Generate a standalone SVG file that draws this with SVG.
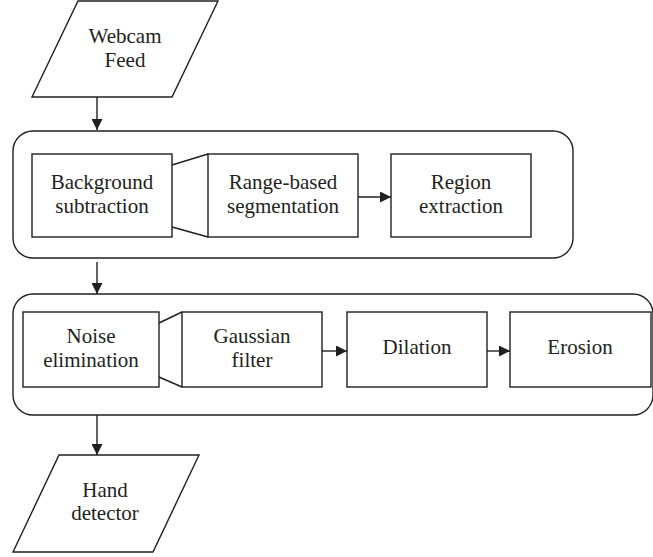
<svg xmlns="http://www.w3.org/2000/svg" width="653" height="557" viewBox="0 0 653 557">
<style>
.s{fill:#fff;stroke:#231f20;stroke-width:1.4}
.l{fill:none;stroke:#231f20;stroke-width:1.4}
</style>
<defs>
<marker id="ah" viewBox="0 0 10 10" refX="10" refY="5" markerWidth="11" markerHeight="11" markerUnits="userSpaceOnUse" orient="auto">
<path d="M0,0 L10,5 L0,10 Z" fill="#231f20"/>
</marker>
</defs>
<g font-family="Liberation Serif, DejaVu Serif, serif" font-size="21" fill="#231f20" text-anchor="middle">
<g id="webcam"><polygon class="s" points="78,1 218,1 172,97 32,97"/><text x="125" y="43">Webcam</text><text x="125" y="67">Feed</text></g>
<g id="group1"><rect class="s" x="13" y="131" width="560" height="127" rx="20"/></g>
<g id="bg"><rect class="s" x="32" y="154" width="140" height="83"/><text x="102" y="189">Background</text><text x="102" y="213">subtraction</text></g>
<g id="range"><rect class="s" x="208" y="154" width="150" height="83"/><text x="283" y="189">Range-based</text><text x="283" y="213">segmentation</text></g>
<g id="region"><rect class="s" x="391" y="154" width="140" height="83"/><text x="461" y="189">Region</text><text x="461" y="213">extraction</text></g>
<g id="group2"><rect class="s" x="13" y="294" width="640" height="121" rx="20"/></g>
<g id="noise"><rect class="s" x="23" y="312" width="136" height="75"/><text x="91" y="343">Noise</text><text x="91" y="367">elimination</text></g>
<g id="gauss"><rect class="s" x="182" y="312" width="140" height="75"/><text x="252" y="343">Gaussian</text><text x="252" y="367">filter</text></g>
<g id="dilation"><rect class="s" x="347" y="312" width="140" height="75"/><text x="417" y="354">Dilation</text></g>
<g id="erosion"><rect class="s" x="510" y="312" width="141" height="75"/><text x="580" y="354">Erosion</text></g>
<g id="hand"><polygon class="s" points="59,455 199,455 153,552 13,552"/><text x="105" y="497">Hand</text><text x="105" y="520">detector</text></g>
</g>
<g id="connectors">
<line class="l" x1="97" y1="97" x2="97" y2="130" marker-end="url(#ah)"/>
<line class="l" x1="97" y1="262" x2="97" y2="294" marker-end="url(#ah)"/>
<line class="l" x1="97" y1="415" x2="97" y2="455" marker-end="url(#ah)"/>
<line class="l" x1="358" y1="197" x2="391" y2="197" marker-end="url(#ah)"/>
<line class="l" x1="322" y1="351" x2="347" y2="351" marker-end="url(#ah)"/>
<line class="l" x1="487" y1="351" x2="510" y2="351" marker-end="url(#ah)"/>
<polyline class="l" points="172,165 208,154"/>
<polyline class="l" points="172,227 208,237"/>
<polyline class="l" points="159,323 182,312"/>
<polyline class="l" points="159,377 182,387"/>
</g>
</svg>
